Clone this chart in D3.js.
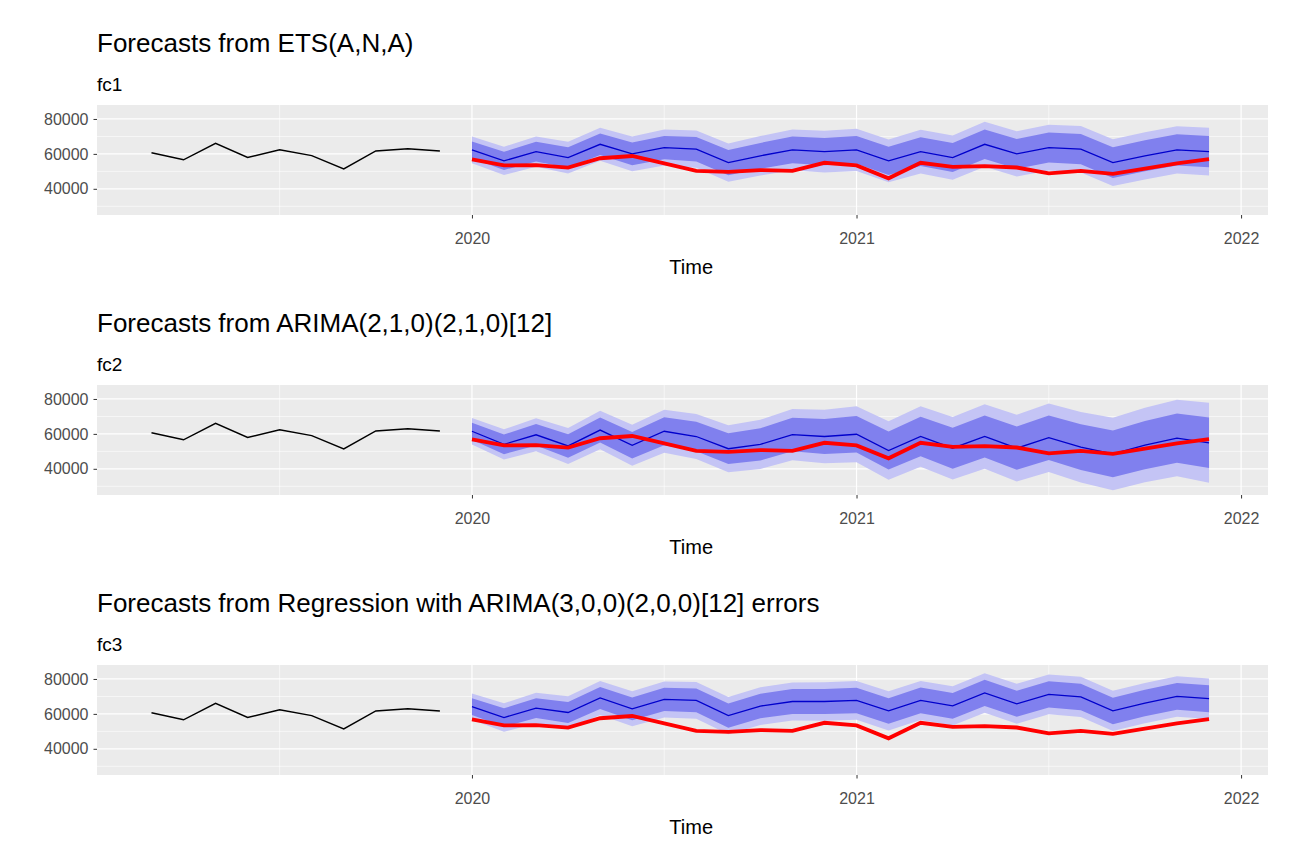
<!DOCTYPE html>
<html><head><meta charset="utf-8">
<script src="https://cdn.jsdelivr.net/npm/d3@7"></script>
<style>body{margin:0;background:#fff}</style></head>
<body><svg id="c" width="1294" height="867"></svg>
<script>
const histTimes = [2019+2/12,2019+3/12,2019+4/12,2019+5/12,2019+6/12,2019+7/12,2019+8/12,2019+9/12,2019+10/12,2019+11/12];
const histValues = [60700,56600,66100,57900,62300,59000,51400,61700,62900,61700];
const fcTimes = d3.range(24).map(i => 2020 + i/12);
const actualValues = [56900,53400,53600,52100,57500,58800,54600,50300,49700,50700,50300,54900,53400,46000,54900,52600,53000,52200,48800,50300,48600,51600,54600,57000];

const titles = ["Forecasts from ETS(A,N,A)","Forecasts from ARIMA(2,1,0)(2,1,0)[12]","Forecasts from Regression with ARIMA(3,0,0)(2,0,0)[12] errors"];
const subtitles = ["fc1","fc2","fc3"];
const fc1Mean = [62300,56000,61300,57900,65500,60000,63600,62700,55000,58900,62300,61300,62300,56000,61300,57900,65500,60000,63600,62700,55000,58900,62300,61300];
const fc1W80 = [4800,5200,5600,5900,6200,6500,6700,7000,7200,7400,7600,7800,8000,8100,8200,8300,8400,8500,8600,8700,8800,8900,9000,9000];
const fc1W95 = [7600,8100,8600,9100,9500,9900,10300,10700,11000,11300,11600,11900,12100,12300,12500,12700,12900,13000,13100,13300,13400,13500,13600,13700];
const fc2Mean = [61500,54000,59500,53100,62200,53500,61500,58500,51500,54000,59600,58500,59800,50500,58500,51800,58500,51800,57800,52400,48500,53600,57600,54900];
const fc2W80 = [4900,5600,6200,6700,7200,7600,8000,8400,8800,9200,9600,10000,10500,10900,11300,11700,12000,12400,12700,13100,13400,13800,14100,14500];
const fc2W95 = [7600,8600,9500,10300,11000,11700,12300,12900,13500,14100,14700,15300,16100,16700,17300,17900,18500,19100,19600,20200,20800,21300,21900,22900];
const fc3Mean = [64200,57900,63300,60800,69100,62900,68300,67700,59000,64500,67100,67100,67700,61700,67700,64600,72000,65800,71200,69700,61700,66200,70000,68700];
const fc3W80 = [4800,5300,5700,6000,6300,6500,6700,6800,6900,7000,7100,7200,7300,7300,7400,7400,7500,7500,7500,7600,7600,7600,7700,7700];
const fc3W95 = [7500,8200,8800,9300,9700,10000,10300,10500,10700,10800,10900,11000,11100,11200,11200,11300,11300,11400,11400,11500,11500,11500,11600,11600];
const means = [fc1Mean, fc2Mean, fc3Mean], w80s = [fc1W80, fc2W80, fc3W80], w95s = [fc1W95, fc2W95, fc3W95];
const xTicks = [2020, 2021, 2022];
const yTicks = [40000, 60000, 80000];

const svg = d3.select("#c");
const font = "Liberation Sans, Arial, sans-serif";
const x = d3.scaleLinear().domain([2019.025, 2022.07]).range([97, 1268]);

for (let p = 0; p < 3; p++) {
  const off = p * 280;
  const top = 105 + off, bot = 215 + off;
  const y = d3.scaleLinear().domain([25000, 88000]).range([bot, top]);
  const g = svg.append("g");
  g.append("text").attr("x", 97).attr("y", 52 + off).attr("font-family", font).attr("font-size", 26).text(titles[p]);
  g.append("text").attr("x", 97).attr("y", 91 + off).attr("font-family", font).attr("font-size", 19).text(subtitles[p]);
  g.append("rect").attr("x", 97).attr("y", top).attr("width", 1171).attr("height", 110).attr("fill", "#EBEBEB");
  [30000, 50000, 70000].forEach(v => g.append("line").attr("x1", 97).attr("x2", 1268).attr("y1", y(v)).attr("y2", y(v)).attr("stroke", "#fff").attr("stroke-width", 0.6));
  [2019.5, 2020.5, 2021.5].forEach(v => g.append("line").attr("y1", top).attr("y2", bot).attr("x1", x(v)).attr("x2", x(v)).attr("stroke", "#fff").attr("stroke-width", 0.6));
  yTicks.forEach(v => g.append("line").attr("x1", 97).attr("x2", 1268).attr("y1", y(v)).attr("y2", y(v)).attr("stroke", "#fff").attr("stroke-width", 1.2));
  xTicks.forEach(v => g.append("line").attr("y1", top).attr("y2", bot).attr("x1", x(v)).attr("x2", x(v)).attr("stroke", "#fff").attr("stroke-width", 1.2));

  const m = means[p], a80 = w80s[p], a95 = w95s[p];
  const area = (w) => d3.area().x((d, i) => x(fcTimes[i])).y0((d, i) => y(m[i] - w[i])).y1((d, i) => y(m[i] + w[i]));
  g.append("path").datum(m).attr("d", area(a95)).attr("fill", "#C4C4F5");
  g.append("path").datum(m).attr("d", area(a80)).attr("fill", "#8080EE");
  g.append("path").datum(m).attr("d", d3.line().x((d, i) => x(fcTimes[i])).y(d => y(d))).attr("fill", "none").attr("stroke", "#0000CC").attr("stroke-width", 1.3);
  g.append("path").datum(histValues).attr("d", d3.line().x((d, i) => x(histTimes[i])).y(d => y(d))).attr("fill", "none").attr("stroke", "#000").attr("stroke-width", 1.5);
  g.append("path").datum(actualValues).attr("d", d3.line().x((d, i) => x(fcTimes[i])).y(d => y(d))).attr("fill", "none").attr("stroke", "#FF0000").attr("stroke-width", 3.8);

  const ax = g.append("g").attr("transform", `translate(0,${bot})`).call(d3.axisBottom(x).tickValues(xTicks).tickFormat(d3.format("d")).tickSize(3.5).tickPadding(14));
  const ay = g.append("g").attr("transform", `translate(97,0)`).call(d3.axisLeft(y).tickValues(yTicks).tickFormat(d => d).tickSize(3.5).tickPadding(5));
  [ax, ay].forEach(a => { a.select(".domain").remove(); a.selectAll("line").attr("stroke", "#333"); a.selectAll("text").attr("fill", "#4D4D4D").attr("font-size", 16).attr("font-family", font); });
  g.append("text").attr("x", x(2020.57)).attr("y", 274 + off).attr("text-anchor", "middle").attr("font-family", font).attr("font-size", 20).text("Time");
}
</script></body></html>
